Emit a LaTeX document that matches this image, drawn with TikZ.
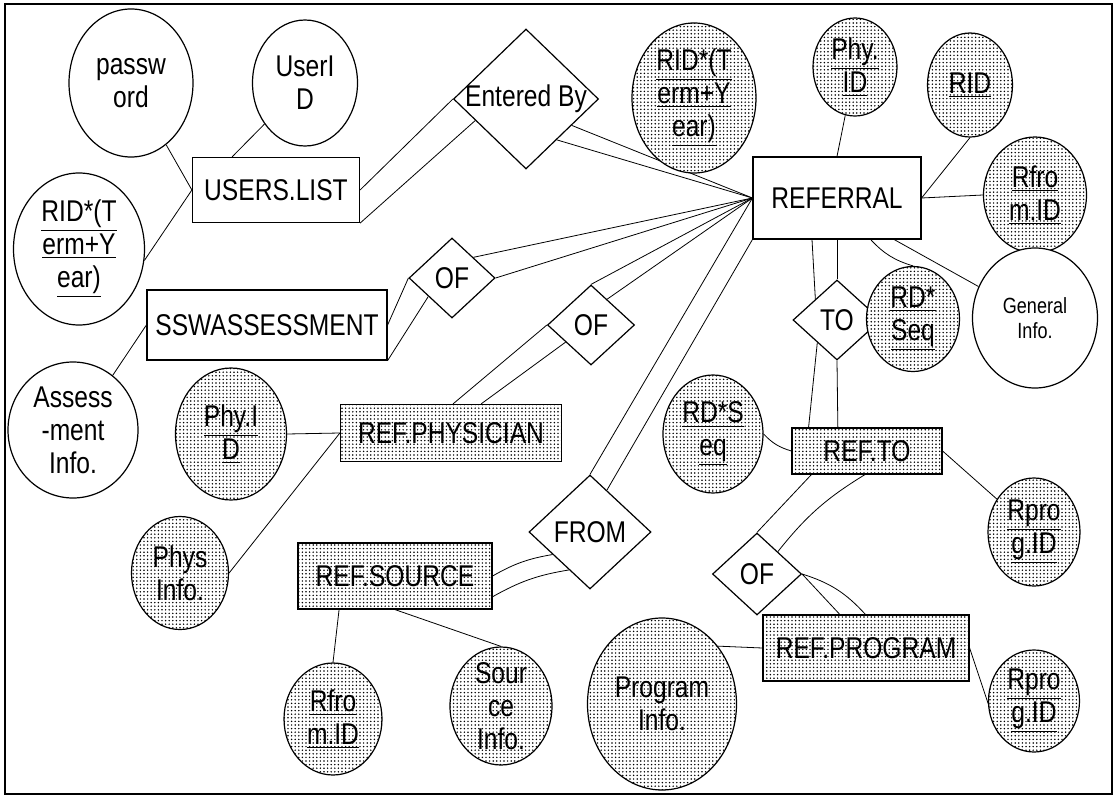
\documentclass[tikz,border=0pt]{standalone}
\usepackage{fontspec}
\setmainfont{Liberation Sans}[FakeStretch=0.82]
\usepackage{tikz}
\usetikzlibrary{shapes.geometric,patterns,backgrounds}
\pgfdeclarepatternformonly{finedots}{\pgfqpoint{-0.5pt}{-0.5pt}}{\pgfqpoint{0.5pt}{0.5pt}}{\pgfqpoint{1.8pt}{1.8pt}}{\pgfpathcircle{\pgfpointorigin}{0.42pt}\pgfusepath{fill}}

\begin{document}
\begin{tikzpicture}[x=0.5pt,y=-0.5pt,line width=0.6pt,font=\fontsize{15}{16.5}\selectfont,
    entity/.style={rectangle,draw,fill=white,inner sep=1pt},
    dotentity/.style={rectangle,draw,preaction={fill=white},pattern=finedots,inner sep=1pt},
    attr/.style={ellipse,draw,fill=white,inner sep=-2pt,align=center},
    keyattr/.style={ellipse,draw,preaction={fill=white},pattern=finedots,inner sep=-2pt,align=center},
    rel/.style={diamond,draw,fill=white,inner sep=0pt}]
      \useasboundingbox (0,0) rectangle (1120,797);
      \node[attr,minimum width=62pt,minimum height=74pt](password) at (131,83){passw\\ord};
      \node[attr,minimum width=52.5pt,minimum height=63pt](userid) at (305,83){UserI\\D};
      \node[attr,minimum width=65.5pt,minimum height=76pt](ridleft) at (79,249){\underline{RID*(T}\\\underline{erm+Y}\\\underline{ear)}};
      \node[entity,minimum width=83.5pt,minimum height=32.5pt](userslist) at (276,190){USERS.LIST};
      \node[rel,inner sep=-2pt,minimum width=72.5pt,minimum height=70pt](enteredby) at (526,99){Entered By};
      \node[keyattr,minimum width=62pt,minimum height=75pt](ridmid) at (694,98){\underline{RID*(T}\\\underline{erm+Y}\\\underline{ear)}};
      \node[keyattr,minimum width=42pt,minimum height=49pt](phyidtop) at (855,67){\underline{Phy.}\\\underline{ID}};
      \node[keyattr,minimum width=42.5pt,minimum height=52pt](rid) at (970,85){\underline{RID}};
      \node[entity,minimum width=84pt,minimum height=41pt](referral) at (837,198){REFERRAL};
      \node[keyattr,minimum width=51.5pt,minimum height=58pt](rfromidtop) at (1035,195){\underline{Rfro}\\\underline{m.ID}};
      \node[attr,font=\fontsize{11}{12.5}\selectfont,minimum width=62.5pt,minimum height=70pt](general) at (1035,318){General\\Info.};
      \node[rel,minimum width=44pt,minimum height=40pt](torel) at (837,320){TO};
      \node[keyattr,minimum width=46.5pt,minimum height=52.5pt](rdseq) at (913,319){\underline{RD*}\\\underline{Seq}};
      \node[entity,minimum width=120pt,minimum height=35pt](sswassessment) at (267,325){SSWASSESSMENT};
      \node[rel,minimum width=43pt,minimum height=40pt](ofssw) at (452,278){OF};
      \node[rel,minimum width=43.5pt,minimum height=40pt](ofphys) at (591,325){OF};
      \node[attr,minimum width=65pt,minimum height=68pt](assessment) at (73,430){Assess\\-ment\\Info.};
      \node[keyattr,minimum width=55.5pt,minimum height=66pt](phyidleft) at (231,434){\underline{Phy.I}\\\underline{D}};
      \node[dotentity,minimum width=110.5pt,minimum height=28.5pt](refphysician) at (451,433){REF.PHYSICIAN};
      \node[keyattr,minimum width=48.5pt,minimum height=56.5pt](physinfo) at (180,573){Phys\\Info.};
      \node[dotentity,minimum width=97pt,minimum height=33pt](refsource) at (395,576){REF.SOURCE};
      \node[rel,minimum width=61pt,minimum height=57pt](fromrel) at (590,532){FROM};
      \node[keyattr,minimum width=49pt,minimum height=56pt](rfromidbot) at (333,719){\underline{Rfro}\\\underline{m.ID}};
      \node[keyattr,minimum width=51pt,minimum height=59pt](sourceinfo) at (501,706){Sour\\ce\\Info.};
      \node[keyattr,minimum width=50pt,minimum height=59pt](rdseqleft) at (713,434){\underline{RD*S}\\\underline{eq}};
      \node[dotentity,minimum width=75pt,minimum height=23pt](refto) at (867,451){REF.TO};
      \node[keyattr,minimum width=46pt,minimum height=54pt](rprogidtop) at (1034,532){\underline{Rpro}\\\underline{g.ID}};
      \node[rel,minimum width=44.5pt,minimum height=41pt](ofprog) at (757,574){OF};
      \node[dotentity,minimum width=103pt,minimum height=33pt](refprogram) at (866,648){REF.PROGRAM};
      \node[keyattr,minimum width=74.5pt,minimum height=86pt](programinfo) at (662,704){Program\\Info.};
      \node[keyattr,minimum width=45.5pt,minimum height=51pt](rprogidbot) at (1034,701){\underline{Rpro}\\\underline{g.ID}};
      \begin{scope}[on background layer]
        \draw (password) -- (userslist.west);
        \draw (ridleft.-10) -- (userslist.west);
        \draw (userid) -- (userslist.143);
        \draw (userslist.east) -- (enteredby.west);
        \draw (userslist.south east) -- (enteredby.-157);
        \draw (enteredby.-30) -- (referral.west);
        \draw (enteredby.-53) -- (referral.west);
        \draw (phyidtop) -- (referral.north);
        \draw (rid.south) -- (referral.east);
        \draw (rfromidtop.west) -- (referral.east);
        \draw (referral.-36) -- (general);
        \draw (referral.-51) to[bend right=15] (rdseq.north);
        \draw (referral.-121) -- (torel.136);
        \draw (referral.south) -- (torel.north);
        \draw (torel.-131) -- (refto.158);
        \draw (torel.south) -- (refto.141);
        \draw (ofssw.44) -- (referral.west);
        \draw (ofssw.east) -- (referral.west);
        \draw (ofssw.west) -- (sswassessment.east);
        \draw (ofssw.-142) -- (sswassessment.south east);
        \draw (assessment.54) -- (sswassessment.west);
        \draw (ofphys.north) -- (referral.west);
        \draw (ofphys.58) -- (referral.west);
        \draw (ofphys.west) -- (refphysician.86);
        \draw (ofphys.-146) -- (refphysician.44);
        \draw (phyidleft.east) -- (refphysician.west);
        \draw (physinfo.east) -- (refphysician.west);
        \draw (fromrel.north) -- (referral.west);
        \draw (fromrel.68) -- (referral.south west);
        \draw (refsource.east) to[bend left=10] (fromrel.-149);
        \draw (refsource.-12) to[bend left=10] (fromrel.-119);
        \draw (refsource.-149) -- (rfromidbot.north);
        \draw (refsource.south) -- (sourceinfo.north);
        \draw (rdseqleft.east) to[bend right=15] (refto.west);
        \draw (refto.east) -- (rprogidtop);
        \draw (refto.-157) -- (ofprog.north);
        \draw (refto.-95) to[bend right=10] (ofprog.47);
        \draw (ofprog.east) -- (refprogram.128);
        \draw (ofprog.east) to[bend left=15] (refprogram.91);
        \draw (programinfo.46) -- (refprogram.west);
        \draw (refprogram.east) -- (rprogidbot.-138);
      \end{scope}
      \draw[line width=1pt] (5,4) rectangle (1112,794);
    \end{tikzpicture}
\end{document}
